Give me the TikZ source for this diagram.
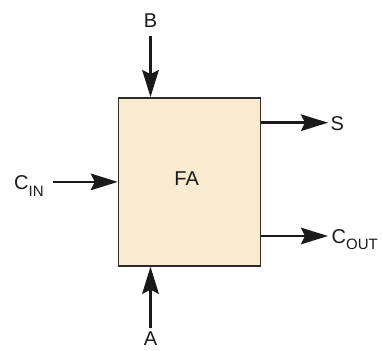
\documentclass[tikz,border=0pt]{standalone}
\usepackage{fontspec}
\setmainfont{Liberation Sans}
\usetikzlibrary{arrows.meta}
\definecolor{boxfill}{HTML}{F8EBCF}
\definecolor{boxline}{HTML}{2B2B2B}
\definecolor{sigcol}{HTML}{1A1A1A}
\newcommand{\sbs}[1]{\raisebox{-0.33em}{\fontsize{15}{15}\selectfont #1}}
\begin{document}
\begin{tikzpicture}[x=1pt,y=-1pt,
  fablock/.style={draw=boxline,line width=1.6pt,fill=boxfill,minimum width=142pt,minimum height=168pt,inner sep=0pt},
  lbl/.style={inner sep=0pt,text=sigcol,font=\fontsize{20}{20}\selectfont},
  sig/.style={draw=sigcol,line width=2.8pt,-{Stealth[length=27pt,width=16.5pt,inset=4pt]}}]
\useasboundingbox (0,0) rectangle (382,350);
\node[fablock] (fa) at (189.6,181.9) {};
\node[lbl,anchor=base] (fat) at (186.7,185.7) {FA};
\node[lbl,anchor=base] (b) at (150.5,27.7) {B};
\node[lbl,anchor=base] (a) at (150.5,345.2) {A};
\node[lbl,anchor=base west] (cin) at (14,189.5) {C\sbs{IN}};
\node[lbl,anchor=base west] (s) at (330.5,130.3) {S};
\node[lbl,anchor=base west] (cout) at (331.5,243.3) {C\sbs{OUT}};
\coordinate (bs) at (150.5,36);
\coordinate (as) at (150.5,328);
\coordinate (cins) at (53,181.9);
\coordinate (se) at (328,122.7);
\coordinate (ce) at (328,236);
\draw[sig] (bs) -- (bs |- fa.north);
\draw[sig] (as) -- (as |- fa.south);
\draw[sig] (cins) -- (fa.west);
\draw[sig] (fa.east |- se) -- (se);
\draw[sig] (fa.east |- ce) -- (ce);
\end{tikzpicture}
\end{document}
